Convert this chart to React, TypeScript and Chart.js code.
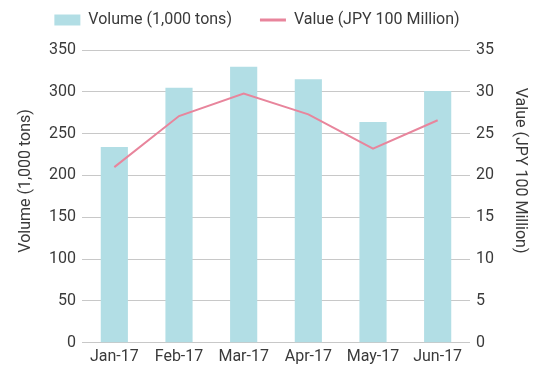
import React, { useEffect, useRef } from "react";
import { Chart, registerables } from "chart.js";

Chart.register(...registerables);

const categories = ["Jan-17", "Feb-17", "Mar-17", "Apr-17", "May-17", "Jun-17"];
const volume = [234, 305, 330, 315, 264, 301];
const value = [21.0, 27.1, 29.8, 27.3, 23.2, 26.6];
const leftTitle = "Volume (1,000 tons)";
const rightTitle = "Value (JPY 100 Million)";

const FONT = "Roboto, 'DejaVu Sans', sans-serif";
const TEXT = "#3a3a3a";

const legendTweak = {
  id: "legendTweak",
  beforeInit(chart: any) {
    const lg = chart.legend;
    if (!lg) return;
    const orig = lg.fit;
    lg.fit = function () {
      orig.call(this);
      this.height = 50;
    };
  },
  afterLayout(chart: any) {
    const lg = chart.legend;
    if (!lg) return;
    lg.left -= 18;
    lg.right -= 18;
    lg.top -= 16;
    lg.bottom -= 16;
  },
};

const axisTitles = {
  id: "axisTitles",
  afterDraw(chart: any) {
    const ctx = chart.ctx;
    const area = chart.chartArea;
    ctx.save();
    ctx.font = `16px ${FONT}`;
    ctx.fillStyle = TEXT;
    ctx.textAlign = "center";
    ctx.textBaseline = "middle";
    ctx.save();
    ctx.translate(26, area.top + (area.bottom - area.top) * 0.447);
    ctx.rotate(-Math.PI / 2);
    ctx.fillText(leftTitle, 0, 0);
    ctx.restore();
    ctx.save();
    ctx.translate(520, area.top + (area.bottom - area.top) * 0.412);
    ctx.rotate(Math.PI / 2);
    ctx.fillText(rightTitle, 0, 0);
    ctx.restore();
    ctx.restore();
  },
};

export default function App() {
  const ref = useRef<HTMLCanvasElement | null>(null);

  useEffect(() => {
    document.body.style.margin = "0";
    const canvas = ref.current;
    if (!canvas) return;
    const chart = new Chart(canvas, {
      data: {
        labels: categories,
        datasets: [
          {
            type: "line",
            label: rightTitle,
            data: value,
            borderColor: "#e8859c",
            backgroundColor: "#e8859c",
            borderWidth: 2,
            pointRadius: 0,
            tension: 0,
            yAxisID: "y1",
            order: 0,
          },
          {
            type: "bar",
            label: leftTitle,
            data: volume,
            backgroundColor: "#b2dee5",
            borderWidth: 0,
            barPercentage: 0.42,
            categoryPercentage: 1,
            yAxisID: "y",
            order: 1,
          },
        ],
      },
      options: {
        responsive: false,
        animation: false,
        layout: { padding: { left: 0, right: 0, top: 0, bottom: -3 } },
        plugins: {
          legend: {
            position: "top",
            reverse: true,
            labels: {
              font: { family: FONT, size: 16 },
              color: TEXT,
              usePointStyle: true,
              pointStyleWidth: 26,
              boxHeight: 11,
              padding: 28,
              generateLabels: (c: any) => {
                const items = Chart.defaults.plugins.legend.labels.generateLabels(c);
                return items.map((it: any) => {
                  const ds = c.data.datasets[it.datasetIndex];
                  if (ds.type === "line") {
                    return { ...it, pointStyle: "line", lineWidth: 3, strokeStyle: "#e8859c" };
                  }
                  return { ...it, pointStyle: "rect", lineWidth: 0 };
                });
              },
            },
          },
          tooltip: { enabled: false },
        },
        scales: {
          x: {
            grid: { display: false, drawTicks: false },
            border: { display: false },
            ticks: { font: { family: FONT, size: 16 }, color: TEXT, padding: 5 },
          },
          y: {
            position: "left",
            min: 0,
            max: 350,
            afterFit: (s: any) => {
              s.width = 82;
            },
            ticks: { stepSize: 50, font: { family: FONT, size: 16 }, color: TEXT, padding: 6 },
            grid: { color: "#c8c8c8", lineWidth: 1, drawTicks: false },
            border: { display: false },
            title: { display: false },
          },
          y1: {
            position: "right",
            min: 0,
            max: 35,
            afterFit: (s: any) => {
              s.width = 80;
            },
            ticks: { stepSize: 5, font: { family: FONT, size: 16 }, color: TEXT, padding: 6 },
            grid: { display: false, drawTicks: false },
            border: { display: false },
            title: { display: false },
          },
        },
      },
      plugins: [legendTweak, axisTitles],
    } as any);
    return () => chart.destroy();
  }, []);

  return (
    <div style={{ width: 550, height: 369, background: "#fff" }}>
      <canvas ref={ref} width={550} height={369} />
    </div>
  );
}
